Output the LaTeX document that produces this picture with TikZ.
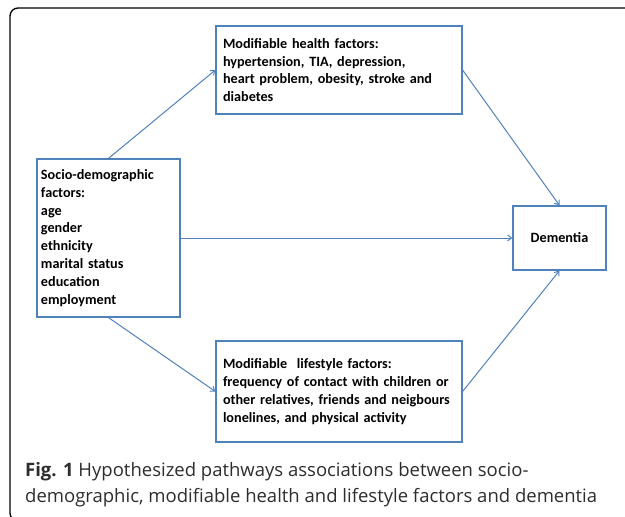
\documentclass[tikz,border=0pt]{standalone}
\usepackage{fontspec}
\setmainfont{Carlito}
\newfontfamily\capfont{Open Sans}
\usetikzlibrary{arrows.meta}
\definecolor{boxblue}{RGB}{79,129,189}
\definecolor{capgray}{RGB}{45,45,45}
\tikzset{
    factorbox/.style={draw=boxblue, line width=1.2pt, rectangle, align=left,
        font=\bfseries\fontsize{14.2}{17.8}\selectfont, inner xsep=0pt},
    link/.style={draw=boxblue, line width=1pt, -{Straight Barb[length=4pt,width=6pt]}}
}
\begin{document}
\begin{tikzpicture}[x=1pt,y=-1pt]
        \useasboundingbox (0,0) rectangle (625,517);
        \clip (0,0) rectangle (625,517);

        % outer frame
        \draw[line width=1.3pt, rounded corners=8pt] (640,8) -- (10,8) -- (10,521) -- (40,521);

        \node[factorbox, minimum width=246pt, minimum height=88pt, text width=232pt] (health) at (339,70)
            {Modifiable health factors:\\hypertension, TIA, depression,\\heart problem, obesity, stroke and\\diabetes};
        \node[factorbox, minimum width=143pt, minimum height=158pt, text width=135pt] (socio) at (108.5,238)
            {Socio-demographic\\factors:\\age\\gender\\ethnicity\\marital status\\education\\employment};
        \node[factorbox, minimum width=93pt, minimum height=64pt, align=center] (dementia) at (559.5,238)
            {Dementia};
        \node[factorbox, minimum width=246pt, minimum height=101pt, text width=232pt] (lifestyle) at (339,391.5)
            {Modifiable\ \ lifestyle factors:\\frequency of contact with children or\\other relatives, friends and neigbours\\lonelines, and physical activity};

        \draw[link] (socio.north) -- (health.west);
        \draw[link] (health.east) -- (dementia.north);
        \draw[link] (socio.east) -- (dementia.west);
        \draw[link] (socio.south) -- (lifestyle.west);
        \draw[link] (lifestyle.east) -- (dementia.south);

        \node[anchor=west, align=left, inner sep=0pt, text=capgray,
            font=\capfont\fontsize{18.5}{26}\selectfont] (caption) at (25,485)
            {\textbf{Fig. 1} Hypothesized pathways associations between socio-\\demographic, modifiable health and lifestyle factors and dementia};

    \end{tikzpicture}
\end{document}
